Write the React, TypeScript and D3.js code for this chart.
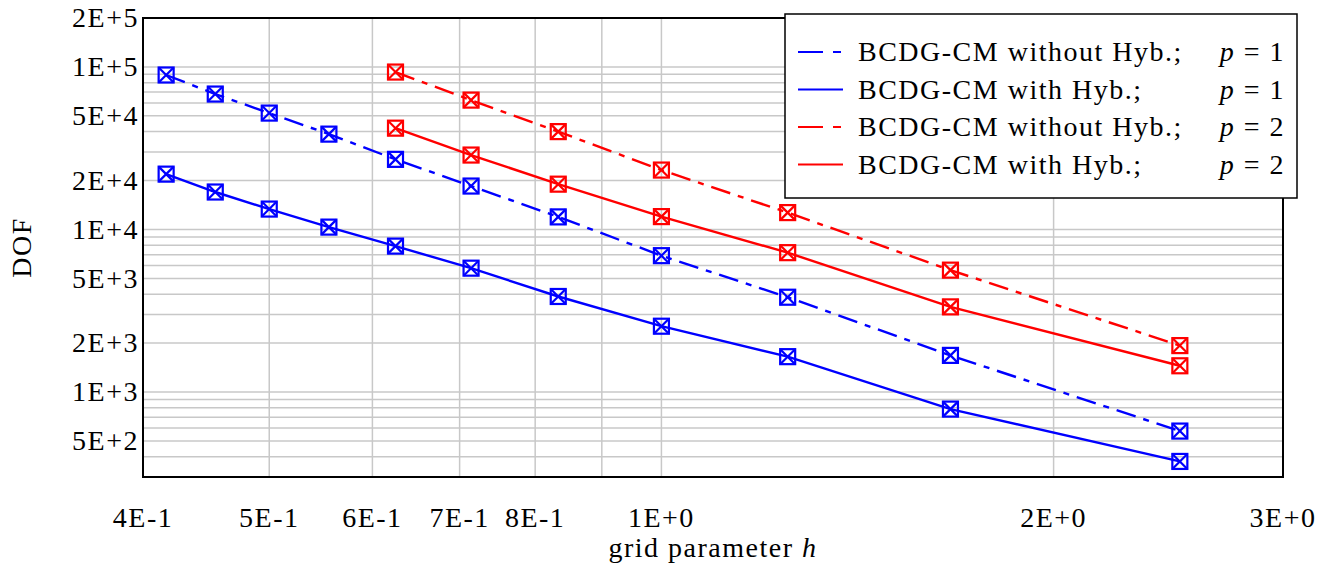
import React from 'react';
import * as d3 from 'd3';

// grid parameter h for each mesh
const hBlue = [0.4167, 0.4545, 0.5, 0.5556, 0.625, 0.7143, 0.8333, 1.0, 1.25, 1.6667, 2.5];
const hRed = [0.625, 0.7143, 0.8333, 1.0, 1.25, 1.6667, 2.5];

// DOF
const dofP1NoHyb = [89200, 68100, 52000, 38600, 27000, 18500, 11950, 6900, 3830, 1680, 575];
const dofP1Hyb = [21900, 17000, 13350, 10340, 7900, 5780, 3870, 2540, 1650, 785, 374];
const dofP2NoHyb = [93000, 62500, 40000, 23200, 12700, 5620, 1930];
const dofP2Hyb = [42000, 28700, 19000, 12000, 7200, 3340, 1450];

const xTickVals = [0.4, 0.5, 0.6, 0.7, 0.8, 1, 2, 3];
const xTickLabels = ['4E-1', '5E-1', '6E-1', '7E-1', '8E-1', '1E+0', '2E+0', '3E+0'];
const yTickVals = [200000, 100000, 50000, 20000, 10000, 5000, 2000, 1000, 500];
const yTickLabels = ['2E+5', '1E+5', '5E+4', '2E+4', '1E+4', '5E+3', '2E+3', '1E+3', '5E+2'];

const series = [
  { name: 'BCDG-CM without Hyb.;', p: '1', color: '#0000ff', dashed: true, h: hBlue, dof: dofP1NoHyb },
  { name: 'BCDG-CM with Hyb.;', p: '1', color: '#0000ff', dashed: false, h: hBlue, dof: dofP1Hyb },
  { name: 'BCDG-CM without Hyb.;', p: '2', color: '#ff0000', dashed: true, h: hRed, dof: dofP2NoHyb },
  { name: 'BCDG-CM with Hyb.;', p: '2', color: '#ff0000', dashed: false, h: hRed, dof: dofP2Hyb },
];

const width = 1338, height = 572;
const left = 143, right = 1283, top = 18, bottom = 477;
const font = 'Liberation Serif';
const fs = 28;
const ls = 1.5;
const dash = '20 8 6 8';

export default function App() {
  const x = d3.scaleLog().domain([0.4, 3]).range([left, right]);
  const y = d3.scaleLog().domain([300, 200000]).range([bottom, top]);

  const xGrid = x.ticks().filter(v => v > 0.4 && v < 3);
  const yGrid = y.ticks().filter(v => v > 300 && v < 200000);

  const line = d3.line<[number, number]>().x(d => x(d[0])).y(d => y(d[1]));
  const m = 7.5; // half marker size

  return (
    <svg width={width} height={height} style={{ position: 'absolute', left: 0, top: 0, background: '#fff' }}>
      <g stroke="#c8c8c8" strokeWidth={1.5}>
        {xGrid.map(v => <line key={'gx' + v} x1={x(v)} x2={x(v)} y1={top} y2={bottom} />)}
        {yGrid.map(v => <line key={'gy' + v} x1={left} x2={right} y1={y(v)} y2={y(v)} />)}
      </g>

      {series.map((s, i) => {
        const pts = s.h.map((h, j) => [h, s.dof[j]] as [number, number]);
        return (
          <g key={'s' + i}>
            <path d={line(pts) || ''} fill="none" stroke={s.color} strokeWidth={2.4}
              strokeDasharray={s.dashed ? dash : undefined} />
            {pts.map((d, j) => {
              const cx = x(d[0]), cy = y(d[1]);
              return (
                <g key={j} stroke={s.color} strokeWidth={2.2} fill="none">
                  <rect x={cx - m} y={cy - m} width={2 * m} height={2 * m} />
                  <line x1={cx - m} y1={cy - m} x2={cx + m} y2={cy + m} />
                  <line x1={cx - m} y1={cy + m} x2={cx + m} y2={cy - m} />
                </g>
              );
            })}
          </g>
        );
      })}

      <rect x={left} y={top} width={right - left} height={bottom - top} fill="none" stroke="#000" strokeWidth={2} />

      <g fontFamily={font} fontSize={fs} fill="#000" letterSpacing={ls}>
        {yTickVals.map((v, i) => (
          <text key={'yl' + i} x={left - 4} y={y(v)} dy="0.33em" textAnchor="end">{yTickLabels[i]}</text>
        ))}
        {xTickVals.map((v, i) => (
          <text key={'xl' + i} x={x(v)} y={527} textAnchor="middle">{xTickLabels[i]}</text>
        ))}
        <text x={713} y={557} textAnchor="middle">
          grid parameter <tspan fontStyle="italic">h</tspan>
        </text>
        <text transform={`translate(31,${(top + bottom) / 2}) rotate(-90)`} textAnchor="middle">DOF</text>
      </g>

      <g>
        <rect x={785} y={14} width={512} height={184} fill="#fff" stroke="#000" strokeWidth={1.5} />
        {series.map((s, i) => {
          const ly = 52 + i * 37.5;
          return (
            <g key={'lg' + i} fontFamily={font} fontSize={fs} letterSpacing={ls}>
              <line x1={798} x2={843} y1={ly} y2={ly} stroke={s.color} strokeWidth={2.2}
                strokeDasharray={s.dashed ? '25 10 8 10' : undefined} />
              <text x={858} y={ly + 9}>{s.name}</text>
              <text x={1285} y={ly + 9} textAnchor="end">
                <tspan fontStyle="italic">p</tspan> = {s.p}
              </text>
            </g>
          );
        })}
      </g>
    </svg>
  );
}
